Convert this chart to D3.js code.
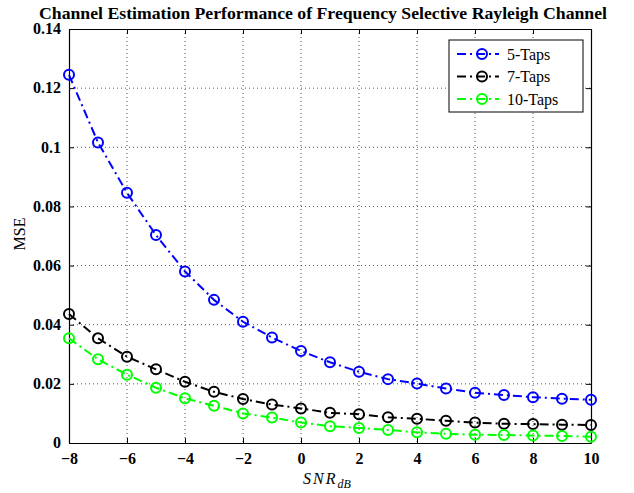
<!DOCTYPE html>
<html>
<head>
<meta charset="utf-8">
<script src="https://cdn.jsdelivr.net/npm/d3@7"></script>
<style>
  body { margin: 0; background: #fff; }
  svg { display: block; font-family: "Liberation Serif", "DejaVu Serif", serif; }
  .tick text { font-family: "Liberation Serif", "DejaVu Serif", serif; font-weight: bold; font-size: 16px; fill: #000; }
</style>
</head>
<body>
<div id="chart"></div>
<script>
// data
const snr = [-8,-7,-6,-5,-4,-3,-2,-1,0,1,2,3,4,5,6,7,8,9,10];
const taps5 = [0.1245,0.1016,0.0846,0.0703,0.0580,0.0484,0.0410,0.0357,0.0311,0.0273,0.0241,0.0216,0.0201,0.0184,0.0170,0.0162,0.0155,0.0150,0.0146];
const taps7 = [0.0436,0.0354,0.0292,0.0249,0.0207,0.0173,0.0149,0.0130,0.0117,0.0102,0.0097,0.0087,0.0082,0.0075,0.0069,0.0065,0.0064,0.0062,0.0061];
const taps10 = [0.0354,0.0283,0.0231,0.0187,0.0151,0.0126,0.0100,0.0086,0.0069,0.0057,0.0051,0.0044,0.0036,0.0031,0.0028,0.0027,0.0025,0.0024,0.0021];
const xTicks = [-8,-6,-4,-2,0,2,4,6,8,10];
const yTicks = [0,0.02,0.04,0.06,0.08,0.1,0.12,0.14];
const seriesNames = ['5-Taps','7-Taps','10-Taps'];
const seriesColors = ['#0000ff','#000000','#00ff00'];

const width = 634, height = 493;
const margin = {top: 29, left: 69, right: 43, bottom: 50};
const chartWidth = width - margin.left - margin.right;
const chartHeight = height - margin.top - margin.bottom;

const svg = d3.select('#chart').append('svg')
  .attr('width', width)
  .attr('height', height);

const xScale = d3.scaleLinear().domain([-8, 10]).range([0, chartWidth]);
const yScale = d3.scaleLinear().domain([0, 0.14]).range([chartHeight, 0]);

const chart = svg.append('g')
  .attr('transform', `translate(${margin.left},${margin.top})`);

// grid
chart.append('g').selectAll('line').data(xTicks.slice(1, -1)).enter().append('line')
  .attr('x1', d => xScale(d)).attr('x2', d => xScale(d))
  .attr('y1', 0).attr('y2', chartHeight)
  .attr('stroke', '#555').attr('stroke-width', 1).attr('stroke-dasharray', '1,3');
chart.append('g').selectAll('line').data(yTicks.slice(1, -1)).enter().append('line')
  .attr('y1', d => yScale(d)).attr('y2', d => yScale(d))
  .attr('x1', 0).attr('x2', chartWidth)
  .attr('stroke', '#555').attr('stroke-width', 1).attr('stroke-dasharray', '1,3');

// axes (ticks pointing inward)
const fmtY = d => d === 0 ? '0' : String(+d.toFixed(2));
const xAxis = chart.append('g').attr('transform', `translate(0,${chartHeight})`)
  .call(d3.axisBottom(xScale).tickValues(xTicks).tickSizeInner(-5).tickSizeOuter(0).tickPadding(8));
const yAxis = chart.append('g')
  .call(d3.axisLeft(yScale).tickValues(yTicks).tickFormat(fmtY).tickSizeInner(-5).tickSizeOuter(0).tickPadding(8));
const xTop = chart.append('g')
  .call(d3.axisTop(xScale).tickValues(xTicks).tickSizeInner(-5).tickSizeOuter(0).tickFormat(''));
const yRight = chart.append('g').attr('transform', `translate(${chartWidth},0)`)
  .call(d3.axisRight(yScale).tickValues(yTicks).tickSizeInner(-5).tickSizeOuter(0).tickFormat(''));
[xAxis, yAxis, xTop, yRight].forEach(a => {
  a.attr('font-family', null).attr('font-size', null);
  a.select('.domain').attr('stroke', '#000').attr('stroke-width', 1.2);
  a.selectAll('.tick line').attr('stroke', '#000');
});
xAxis.selectAll('.tick text').attr('dy', '0.8em');
yAxis.selectAll('.tick text').attr('dy', '0.3em');

// series
const series = [taps5, taps7, taps10];
const line = d3.line().x((d, i) => xScale(snr[i])).y(d => yScale(d));
series.forEach((vals, k) => {
  const g = chart.append('g');
  g.append('path').datum(vals)
    .attr('d', line)
    .attr('fill', 'none')
    .attr('stroke', seriesColors[k])
    .attr('stroke-width', 2)
    .attr('stroke-dasharray', '9,4,2,4');
  g.selectAll('circle').data(vals).enter().append('circle')
    .attr('cx', (d, i) => xScale(snr[i]))
    .attr('cy', d => yScale(d))
    .attr('r', 5)
    .attr('fill', 'none')
    .attr('stroke', seriesColors[k])
    .attr('stroke-width', 2);
});

// legend
const legend = svg.append('g').attr('transform', 'translate(449,40)');
legend.append('rect').attr('width', 134).attr('height', 72)
  .attr('fill', '#fff').attr('stroke', '#000').attr('stroke-width', 1);
seriesNames.forEach((name, k) => {
  const y = 14 + k * 22.5;
  legend.append('line').attr('x1', 8).attr('x2', 50).attr('y1', y).attr('y2', y)
    .attr('stroke', seriesColors[k]).attr('stroke-width', 2).attr('stroke-dasharray', '9,4,2,4');
  legend.append('circle').attr('cx', 33).attr('cy', y).attr('r', 5)
    .attr('fill', 'none').attr('stroke', seriesColors[k]).attr('stroke-width', 2);
  legend.append('text').attr('x', 58).attr('y', y).attr('dy', '0.35em')
    .style('font-size', '16px').text(name);
});

// title and labels
svg.append('text').attr('x', 323).attr('y', 19).attr('text-anchor', 'middle')
  .attr('textLength', 568).attr('lengthAdjust', 'spacingAndGlyphs')
  .style('font-weight', 'bold').style('font-size', '16px')
  .text('Channel Estimation Performance of Frequency Selective Rayleigh Channel');
svg.append('text').attr('transform', 'translate(25,234) rotate(-90)')
  .attr('text-anchor', 'middle').style('font-size', '16px').text('MSE');
const xl = svg.append('text').attr('x', 327).attr('y', 484).attr('text-anchor', 'middle')
  .style('font-size', '16px').style('font-style', 'italic').style('letter-spacing', '2px');
xl.append('tspan').text('SNR');
xl.append('tspan').attr('dy', 4).style('font-size', '12px').style('letter-spacing', '0px').text('dB');
</script>
</body>
</html>
